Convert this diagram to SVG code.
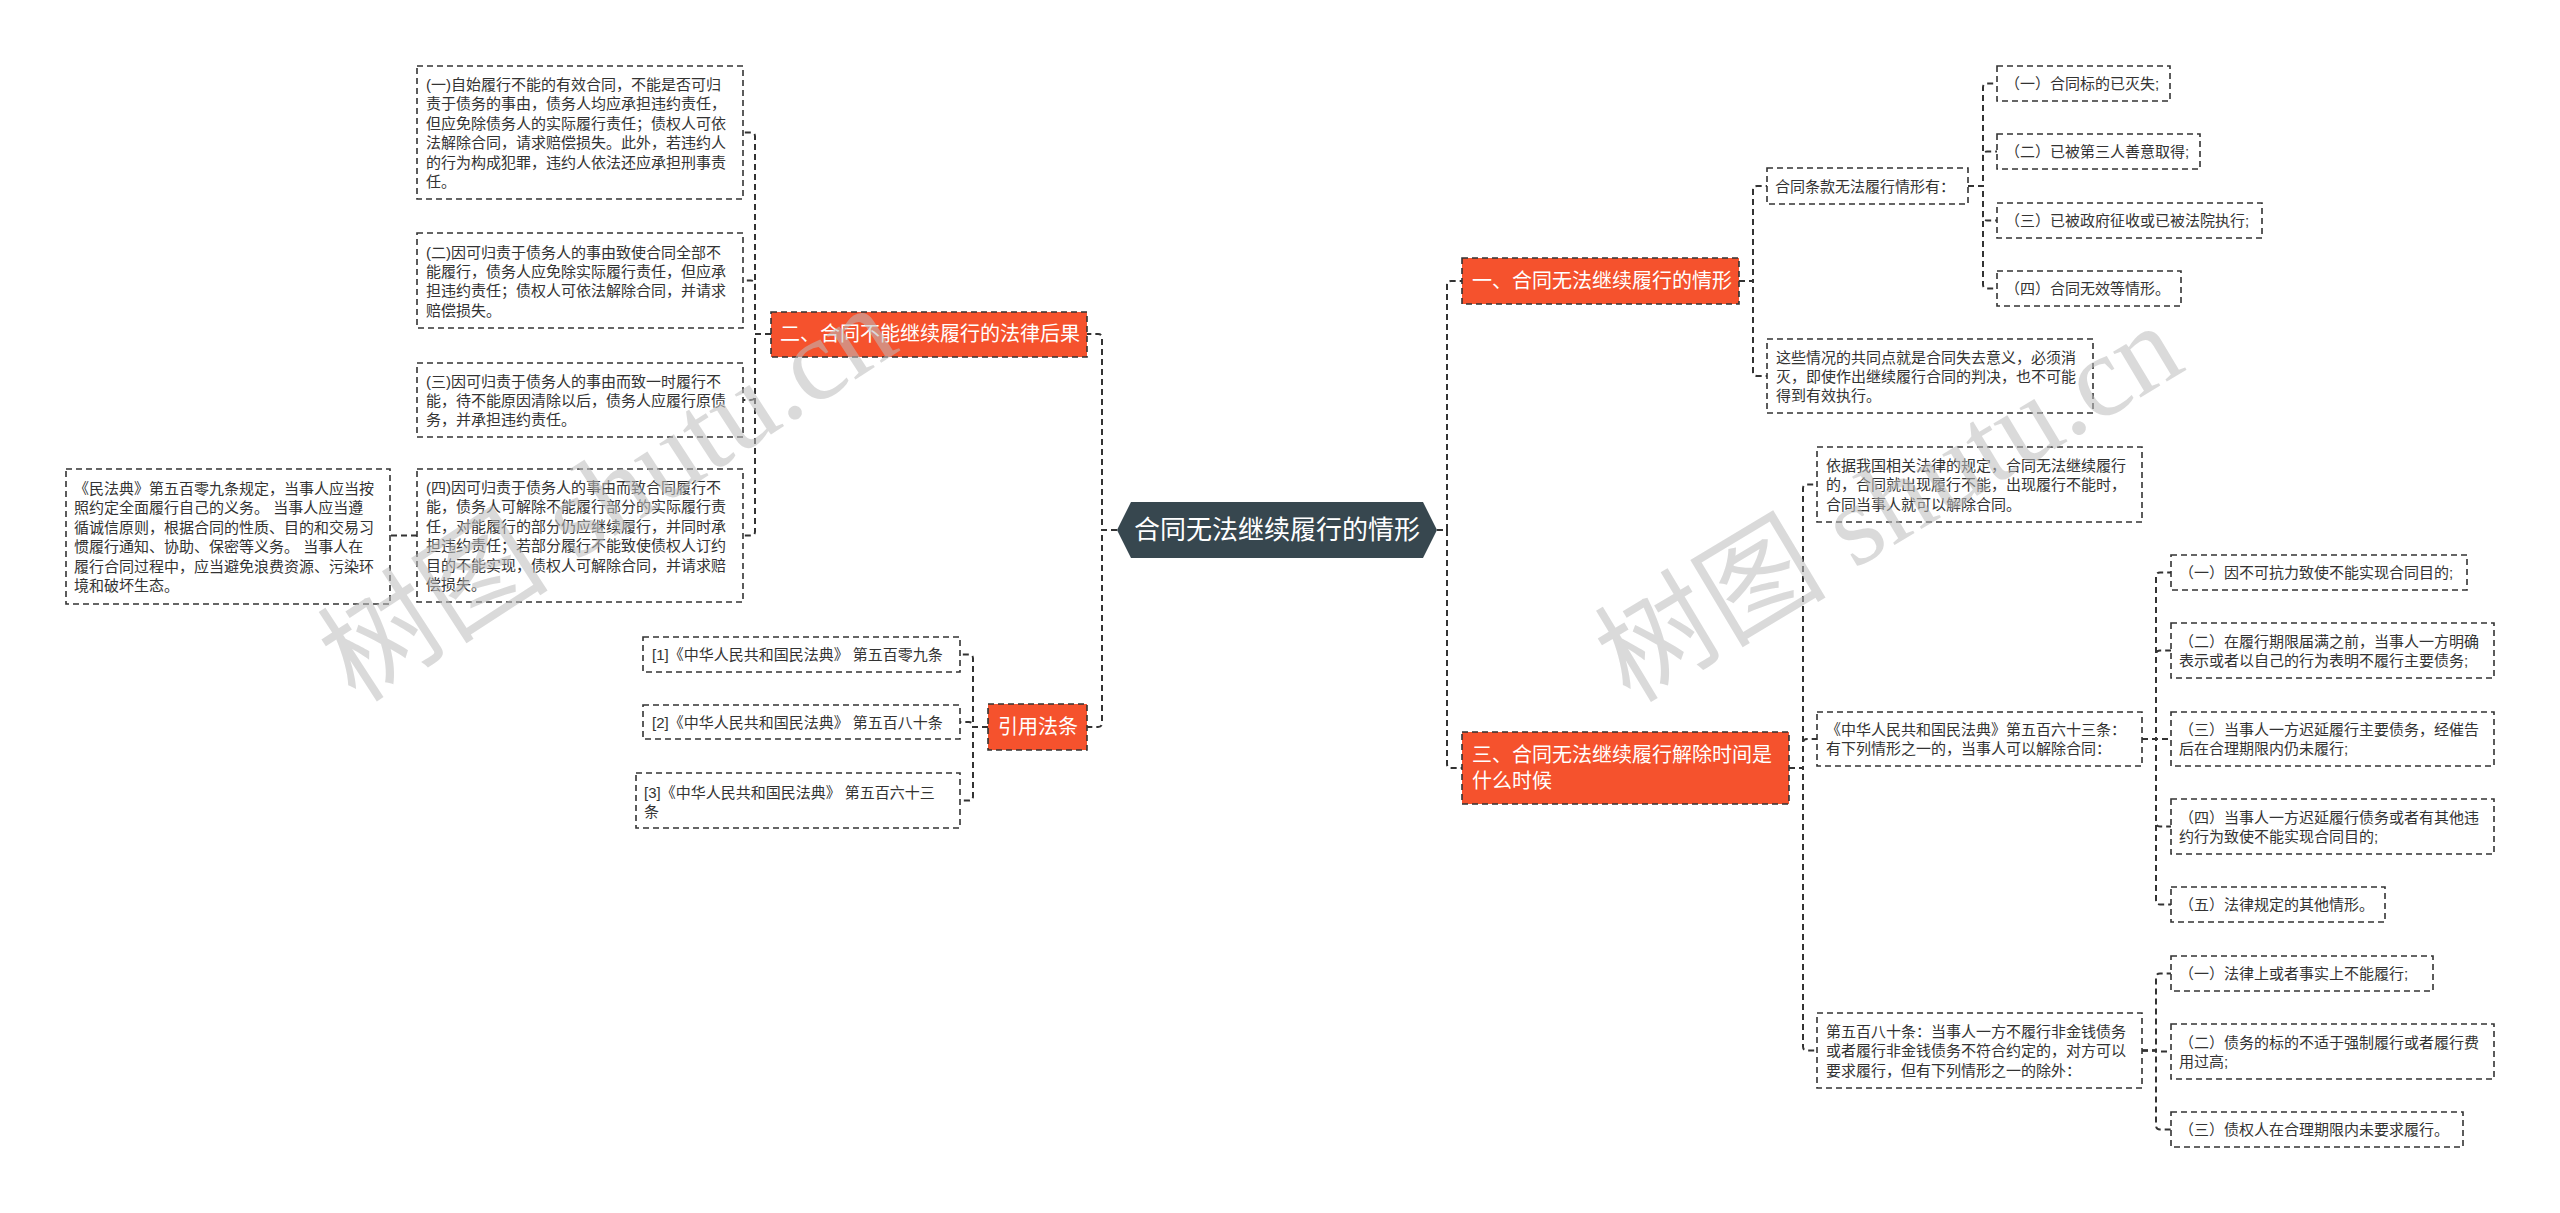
<svg xmlns="http://www.w3.org/2000/svg" width="2560" height="1213" viewBox="0 0 2560 1213">
<style>
.box{fill:#ffffff;stroke:#333333;stroke-width:1.6;stroke-dasharray:6 4}
.main{fill:#f5522d;stroke:#333333;stroke-width:1.6;stroke-dasharray:6 4}
.t{font-family:"Liberation Sans","Noto Sans CJK SC",sans-serif;font-size:15px;fill:#333333}
.mt{font-family:"Liberation Sans","Noto Sans CJK SC",sans-serif;font-size:20px;fill:#ffffff}
.ct{font-family:"Liberation Sans","Noto Sans CJK SC",sans-serif;font-size:26px;fill:#ffffff}
.ln{fill:none;stroke:#333333;stroke-width:2;stroke-dasharray:6 4}
.wm{font-family:"Liberation Serif","Noto Sans CJK SC",serif;font-size:116px;fill:#bdbdbd;opacity:0.55}
</style>
<rect x="0" y="0" width="2560" height="1213" fill="#ffffff"/>

<g id="connectors">
<path class="ln" d="M1117,530 H1102 V338 Q1102,334 1098,334 H1087"/>
<path class="ln" d="M1117,530 H1102 V723 Q1102,727 1098,727 H1087"/>
<path class="ln" d="M771,334 H755 V136.5 Q755,132.5 751,132.5 H743"/>
<path class="ln" d="M771,334 H755 V284.5 Q755,280.5 751,280.5 H743"/>
<path class="ln" d="M771,334 H755 V396 Q755,400 751,400 H743"/>
<path class="ln" d="M771,334 H755 V531.5 Q755,535.5 751,535.5 H743"/>
<path class="ln" d="M417,535.5 H390"/>
<path class="ln" d="M988,727 H973 V658.5 Q973,654.5 969,654.5 H960"/>
<path class="ln" d="M988,727 H973 V726 Q973,722 969,722 H960"/>
<path class="ln" d="M988,727 H973 V796.5 Q973,800.5 969,800.5 H960"/>
<path class="ln" d="M1437,530 H1447 V285 Q1447,281 1451,281 H1462"/>
<path class="ln" d="M1437,530 H1447 V764 Q1447,768 1451,768 H1462"/>
<path class="ln" d="M1739,281 H1753 V190 Q1753,186 1757,186 H1767"/>
<path class="ln" d="M1739,281 H1753 V372 Q1753,376 1757,376 H1767"/>
<path class="ln" d="M1968,186 H1983 V87.5 Q1983,83.5 1987,83.5 H1997"/>
<path class="ln" d="M1968,186 H1983 V155.5 Q1983,151.5 1987,151.5 H1997"/>
<path class="ln" d="M1968,186 H1983 V216.5 Q1983,220.5 1987,220.5 H1997"/>
<path class="ln" d="M1968,186 H1983 V284.5 Q1983,288.5 1987,288.5 H1997"/>
<path class="ln" d="M1789,768 H1803 V488.5 Q1803,484.5 1807,484.5 H1817"/>
<path class="ln" d="M1789,768 H1803 V743 Q1803,739 1807,739 H1817"/>
<path class="ln" d="M1789,768 H1803 V1046.5 Q1803,1050.5 1807,1050.5 H1817"/>
<path class="ln" d="M2142,739 H2156 V576.5 Q2156,572.5 2160,572.5 H2171"/>
<path class="ln" d="M2142,739 H2156 V654.5 Q2156,650.5 2160,650.5 H2171"/>
<path class="ln" d="M2142,739 H2171"/>
<path class="ln" d="M2142,739 H2156 V822.5 Q2156,826.5 2160,826.5 H2171"/>
<path class="ln" d="M2142,739 H2156 V900.5 Q2156,904.5 2160,904.5 H2171"/>
<path class="ln" d="M2142,1050.5 H2156 V977.5 Q2156,973.5 2160,973.5 H2171"/>
<path class="ln" d="M2142,1050.5 H2156 V1051.5 H2171"/>
<path class="ln" d="M2142,1050.5 H2156 V1125.5 Q2156,1129.5 2160,1129.5 H2171"/>
</g>

<g id="center">
<path d="M1117,530 L1131,502 H1423 L1437,530 L1423,558 H1131 Z" fill="#37474f"/>
<text class="ct" x="1277" y="539" text-anchor="middle">合同无法继续履行的情形</text>
</g>

<g id="b2">
<rect class="main" x="771" y="312" width="316" height="45"/>
<text class="mt" x="780" y="341">二、合同不能继续履行的法律后果</text>
</g>
<g id="b4">
<rect class="main" x="988" y="704" width="99" height="46"/>
<text class="mt" x="998" y="734">引用法条</text>
</g>
<g id="b1">
<rect class="main" x="1462" y="258" width="277" height="46"/>
<text class="mt" x="1472" y="288">一、合同无法继续履行的情形</text>
</g>
<g id="b3">
<rect class="main" x="1462" y="732" width="327" height="72"/>
<text class="mt" x="1472" y="762">三、合同无法继续履行解除时间是</text>
<text class="mt" x="1472" y="788">什么时候</text>
</g>

<g id="l1">
<rect class="box" x="417" y="66" width="326" height="133"/>
<text class="t" x="426" y="90">(一)自始履行不能的有效合同，不能是否可归</text>
<text class="t" x="426" y="109.4">责于债务的事由，债务人均应承担违约责任，</text>
<text class="t" x="426" y="128.8">但应免除债务人的实际履行责任；债权人可依</text>
<text class="t" x="426" y="148.2">法解除合同，请求赔偿损失。此外，若违约人</text>
<text class="t" x="426" y="167.6">的行为构成犯罪，违约人依法还应承担刑事责</text>
<text class="t" x="426" y="187">任。</text>
</g>
<g id="l2">
<rect class="box" x="417" y="233" width="326" height="95"/>
<text class="t" x="426" y="257.5">(二)因可归责于债务人的事由致使合同全部不</text>
<text class="t" x="426" y="276.9">能履行，债务人应免除实际履行责任，但应承</text>
<text class="t" x="426" y="296.3">担违约责任；债权人可依法解除合同，并请求</text>
<text class="t" x="426" y="315.7">赔偿损失。</text>
</g>
<g id="l3">
<rect class="box" x="417" y="363" width="326" height="74"/>
<text class="t" x="426" y="386.5">(三)因可归责于债务人的事由而致一时履行不</text>
<text class="t" x="426" y="405.9">能，待不能原因清除以后，债务人应履行原债</text>
<text class="t" x="426" y="425.3">务，并承担违约责任。</text>
</g>
<g id="l4">
<rect class="box" x="417" y="469" width="326" height="133"/>
<text class="t" x="426" y="493">(四)因可归责于债务人的事由而致合同履行不</text>
<text class="t" x="426" y="512.4">能，债务人可解除不能履行部分的实际履行责</text>
<text class="t" x="426" y="531.8">任，对能履行的部分仍应继续履行，并同时承</text>
<text class="t" x="426" y="551.2">担违约责任；若部分履行不能致使债权人订约</text>
<text class="t" x="426" y="570.6">目的不能实现，债权人可解除合同，并请求赔</text>
<text class="t" x="426" y="590">偿损失。</text>
</g>
<g id="l5">
<rect class="box" x="66" y="469" width="324" height="135"/>
<text class="t" x="74" y="494">《民法典》第五百零九条规定，当事人应当按</text>
<text class="t" x="74" y="513.4">照约定全面履行自己的义务。 当事人应当遵</text>
<text class="t" x="74" y="532.8">循诚信原则，根据合同的性质、目的和交易习</text>
<text class="t" x="74" y="552.2">惯履行通知、协助、保密等义务。 当事人在</text>
<text class="t" x="74" y="571.6">履行合同过程中，应当避免浪费资源、污染环</text>
<text class="t" x="74" y="591">境和破坏生态。</text>
</g>
<g id="r1">
<rect class="box" x="643" y="637" width="317" height="35"/>
<text class="t" x="652" y="660">[1]《中华人民共和国民法典》 第五百零九条</text>
</g>
<g id="r2">
<rect class="box" x="643" y="705" width="317" height="34"/>
<text class="t" x="652" y="727.5">[2]《中华人民共和国民法典》 第五百八十条</text>
</g>
<g id="r3">
<rect class="box" x="636" y="773" width="324" height="55"/>
<text class="t" x="644" y="798">[3]《中华人民共和国民法典》 第五百六十三</text>
<text class="t" x="644" y="817.4">条</text>
</g>

<g id="k1">
<rect class="box" x="1767" y="168" width="201" height="36"/>
<text class="t" x="1775" y="191.5">合同条款无法履行情形有：</text>
</g>
<g id="k2">
<rect class="box" x="1767" y="339" width="326" height="74"/>
<text class="t" x="1776" y="362.5">这些情况的共同点就是合同失去意义，必须消</text>
<text class="t" x="1776" y="381.9">灭，即使作出继续履行合同的判决，也不可能</text>
<text class="t" x="1776" y="401.3">得到有效执行。</text>
</g>
<g id="k1a">
<rect class="box" x="1997" y="66" width="173" height="35"/>
<text class="t" x="2005" y="89">（一）合同标的已灭失;</text>
</g>
<g id="k1b">
<rect class="box" x="1997" y="134" width="203" height="35"/>
<text class="t" x="2005" y="157">（二）已被第三人善意取得;</text>
</g>
<g id="k1c">
<rect class="box" x="1997" y="203" width="265" height="35"/>
<text class="t" x="2005" y="226">（三）已被政府征收或已被法院执行;</text>
</g>
<g id="k1d">
<rect class="box" x="1997" y="271" width="184" height="35"/>
<text class="t" x="2005" y="294">（四）合同无效等情形。</text>
</g>

<g id="m1">
<rect class="box" x="1817" y="447" width="325" height="75"/>
<text class="t" x="1826" y="471">依据我国相关法律的规定，合同无法继续履行</text>
<text class="t" x="1826" y="490.4">的，合同就出现履行不能，出现履行不能时，</text>
<text class="t" x="1826" y="509.8">合同当事人就可以解除合同。</text>
</g>
<g id="m2">
<rect class="box" x="1817" y="712" width="325" height="54"/>
<text class="t" x="1826" y="735">《中华人民共和国民法典》第五百六十三条：</text>
<text class="t" x="1826" y="754.4">有下列情形之一的，当事人可以解除合同：</text>
</g>
<g id="m3">
<rect class="box" x="1817" y="1013" width="325" height="75"/>
<text class="t" x="1826" y="1037">第五百八十条：当事人一方不履行非金钱债务</text>
<text class="t" x="1826" y="1056.4">或者履行非金钱债务不符合约定的，对方可以</text>
<text class="t" x="1826" y="1075.8">要求履行，但有下列情形之一的除外：</text>
</g>

<g id="p1">
<rect class="box" x="2171" y="555" width="296" height="35"/>
<text class="t" x="2179" y="578">（一）因不可抗力致使不能实现合同目的;</text>
</g>
<g id="p2">
<rect class="box" x="2171" y="623" width="323" height="55"/>
<text class="t" x="2179" y="646.5">（二）在履行期限届满之前，当事人一方明确</text>
<text class="t" x="2179" y="665.9">表示或者以自己的行为表明不履行主要债务;</text>
</g>
<g id="p3">
<rect class="box" x="2171" y="712" width="323" height="54"/>
<text class="t" x="2179" y="735">（三）当事人一方迟延履行主要债务，经催告</text>
<text class="t" x="2179" y="754.4">后在合理期限内仍未履行;</text>
</g>
<g id="p4">
<rect class="box" x="2171" y="799" width="323" height="55"/>
<text class="t" x="2179" y="822.5">（四）当事人一方迟延履行债务或者有其他违</text>
<text class="t" x="2179" y="841.9">约行为致使不能实现合同目的;</text>
</g>
<g id="p5">
<rect class="box" x="2171" y="887" width="214" height="35"/>
<text class="t" x="2179" y="910">（五）法律规定的其他情形。</text>
</g>
<g id="q1">
<rect class="box" x="2171" y="956" width="262" height="35"/>
<text class="t" x="2179" y="979">（一）法律上或者事实上不能履行;</text>
</g>
<g id="q2">
<rect class="box" x="2171" y="1024" width="323" height="55"/>
<text class="t" x="2179" y="1047.5">（二）债务的标的不适于强制履行或者履行费</text>
<text class="t" x="2179" y="1066.9">用过高;</text>
</g>
<g id="q3">
<rect class="box" x="2171" y="1112" width="292" height="35"/>
<text class="t" x="2179" y="1135">（三）债权人在合理期限内未要求履行。</text>
</g>

<g id="watermark">
<text class="wm" x="356" y="704" transform="rotate(-33 356 704)">树图 shutu.cn</text>
<text class="wm" x="1630" y="704" transform="rotate(-31 1630 704)">树图 shutu.cn</text>
</g>
</svg>
